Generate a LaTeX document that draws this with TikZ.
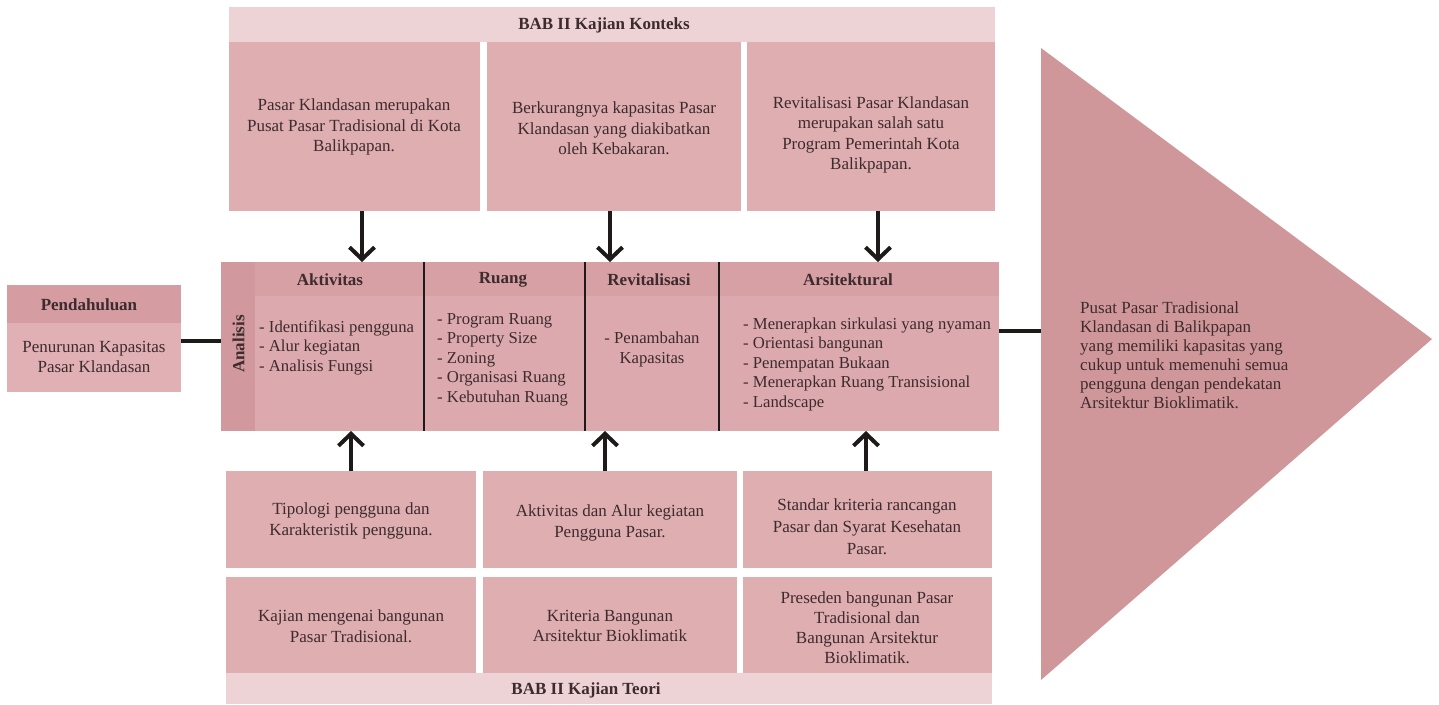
\documentclass[tikz,border=0pt]{standalone}
\usepackage{fontspec}
\setmainfont{Liberation Serif}
\usetikzlibrary{arrows.meta}
\definecolor{banc}{HTML}{EDD3D6}
\definecolor{boxc}{HTML}{DEAEB1}
\definecolor{mainc}{HTML}{DCAAAE}
\definecolor{hdrc}{HTML}{D6A0A4}
\definecolor{analc}{HTML}{D1999E}
\definecolor{phdrc}{HTML}{D59CA1}
\definecolor{pbodc}{HTML}{E0B0B4}
\definecolor{tric}{HTML}{D0979A}
\definecolor{txtc}{HTML}{3D2B2E}
\definecolor{linec}{HTML}{1E1A1A}
\begin{document}
\begin{tikzpicture}[x=1pt,y=-1pt,
  rect/.style={draw=none,inner sep=0pt,outer sep=0pt,anchor=north west},
  txt/.style={text=txtc,inner sep=0pt,align=center,font=\fontsize{17}{20.5}\selectfont},
  ttl/.style={text=txtc,inner sep=0pt,font=\fontsize{17}{20}\selectfont\bfseries},
  item/.style={text=txtc,inner sep=0pt,align=left,anchor=base west,font=\fontsize{16.7}{19.5}\selectfont},
  arr/.style={line width=4pt,draw=linec,-{Straight Barb[length=12pt,width=25pt]}},
  conn/.style={line width=3.5pt,draw=linec},
  div/.style={line width=2pt,draw=linec}]
\useasboundingbox (0,0) rectangle (1439,704);
\fill[white] (0,0) rectangle (1439,704);

% top banner and context boxes
\node[rect,fill=banc,minimum width=766pt,minimum height=35pt] (banT) at (229,7) {};
\node[ttl] (banTt) at (604,25) {BAB II Kajian Konteks};
\node[rect,fill=boxc,minimum width=251pt,minimum height=169pt] (t1) at (229,42) {};
\node[rect,fill=boxc,minimum width=254pt,minimum height=169pt] (t2) at (487,42) {};
\node[rect,fill=boxc,minimum width=248pt,minimum height=169pt] (t3) at (747,42) {};
\node[txt] (t1t) at (354,127) {Pasar Klandasan merupakan\\Pusat Pasar Tradisional di Kota\\Balikpapan.};
\node[txt] (t2t) at (614,128.5) {Berkurangnya kapasitas Pasar\\Klandasan yang diakibatkan\\oleh Kebakaran.};
\node[txt] (t3t) at (871,135) {Revitalisasi Pasar Klandasan\\merupakan salah satu\\Program Pemerintah Kota\\Balikpapan.};

% main analysis box
\node[rect,fill=analc,minimum width=34pt,minimum height=169pt] (main) at (221,262) {};
\node[rect,fill=mainc,minimum width=169pt,minimum height=169pt] (colA) at (255,262) {};
\node[rect,fill=mainc,minimum width=161pt,minimum height=169pt] (colR) at (424,262) {};
\node[rect,fill=mainc,minimum width=134pt,minimum height=169pt] (colV) at (585,262) {};
\node[rect,fill=mainc,minimum width=280pt,minimum height=169pt] (colS) at (719,262) {};
\node[rect,fill=hdrc,minimum width=744pt,minimum height=34pt] (hdr) at (255,262) {};
\node[ttl,rotate=90] (analt) at (238.5,344) {Analisis};
\node[ttl] (hA) at (330,280) {Aktivitas};
\node[ttl] (hR) at (503,280) {Ruang};
\node[ttl] (hV) at (649,280) {Revitalisasi};
\node[ttl] (hS) at (848,280) {Arsitektural};
\draw[div] (colA.north east) -- (colA.south east);
\draw[div] (colR.north east) -- (colR.south east);
\draw[div] (colV.north east) -- (colV.south east);
\node[item] (iA) at (259,371) {- Identifikasi pengguna\\- Alur kegiatan\\- Analisis Fungsi};
\node[item] (iR) at (437,402) {- Program Ruang\\- Property Size\\- Zoning\\- Organisasi Ruang\\- Kebutuhan Ruang};
\node[item,align=center,anchor=base] (iV) at (652,363) {- Penambahan\\Kapasitas};
\node[item] (iS) at (743,407) {- Menerapkan sirkulasi yang nyaman\\- Orientasi bangunan\\- Penempatan Bukaan\\- Menerapkan Ruang Transisional\\- Landscape};

% pendahuluan
\node[rect,fill=phdrc,minimum width=174pt,minimum height=38pt] (ph) at (7,285) {};
\node[rect,fill=pbodc,minimum width=174pt,minimum height=69pt] (pend) at (7,323) {};
\node[ttl] (pht) at (89,305) {Pendahuluan};
\node[txt,font=\fontsize{17}{19.5}\selectfont] (pendt) at (94,357) {Penurunan Kapasitas\\Pasar Klandasan};

% theory boxes
\node[rect,fill=boxc,minimum width=250pt,minimum height=97pt] (b1) at (226,471) {};
\node[rect,fill=boxc,minimum width=254pt,minimum height=97pt] (b2) at (483,471) {};
\node[rect,fill=boxc,minimum width=249pt,minimum height=97pt] (b3) at (743,471) {};
\node[rect,fill=boxc,minimum width=250pt,minimum height=96pt] (c1) at (226,577) {};
\node[rect,fill=boxc,minimum width=254pt,minimum height=96pt] (c2) at (483,577) {};
\node[rect,fill=boxc,minimum width=249pt,minimum height=96pt] (c3) at (743,577) {};
\node[rect,fill=banc,minimum width=766pt,minimum height=31pt] (banB) at (226,673) {};
\node[txt] (b1t) at (351,521) {Tipologi pengguna dan\\Karakteristik pengguna.};
\node[txt] (b2t) at (610,523) {Aktivitas dan Alur kegiatan\\Pengguna Pasar.};
\node[txt,font=\fontsize{17}{22}\selectfont] (b3t) at (867,527) {Standar kriteria rancangan\\Pasar dan Syarat Kesehatan\\Pasar.};
\node[txt] (c1t) at (351,626) {Kajian mengenai bangunan\\Pasar Tradisional.};
\node[txt] (c2t) at (610,626) {Kriteria Bangunan\\Arsitektur Bioklimatik};
\node[txt,font=\fontsize{17}{20}\selectfont] (c3t) at (867,628) {Preseden bangunan Pasar\\Tradisional dan\\Bangunan Arsitektur\\Bioklimatik.};
\node[ttl] (banBt) at (586,690) {BAB II Kajian Teori};

% result triangle
\coordinate (tritop) at (1041,48);
\coordinate (tribot) at (1041,680);
\coordinate (tritip) at (1432,339);
\fill[tric] (tritop) -- (tritip) -- (tribot) -- cycle;
\node[txt,align=left,anchor=west,font=\fontsize{17}{19}\selectfont] (trit) at (1080,355) {Pusat Pasar Tradisional\\Klandasan di Balikpapan\\yang memiliki kapasitas yang\\cukup untuk memenuhi semua\\pengguna dengan pendekatan\\Arsitektur Bioklimatik.};

% connectors
\coordinate (xa1) at (362,0);
\coordinate (xa2) at (610,0);
\coordinate (xa3) at (878,0);
\coordinate (xb1) at (351,0);
\coordinate (xb2) at (605,0);
\coordinate (xb3) at (866,0);
\draw[arr] (t1.south -| xa1) -- (hdr.north -| xa1);
\draw[arr] (t2.south -| xa2) -- (hdr.north -| xa2);
\draw[arr] (t3.south -| xa3) -- (hdr.north -| xa3);
\draw[arr] (b1.north -| xb1) -- (colA.south -| xb1);
\draw[arr] (b2.north -| xb2) -- (colA.south -| xb2);
\draw[arr] (b3.north -| xb3) -- (colA.south -| xb3);
\coordinate (yl) at (0,341);
\coordinate (yr) at (0,331);
\draw[conn] (ph.east |- yl) -- (main.west |- yl);
\draw[conn] (colS.east |- yr) -- (tritop |- yr);
\end{tikzpicture}
\end{document}
